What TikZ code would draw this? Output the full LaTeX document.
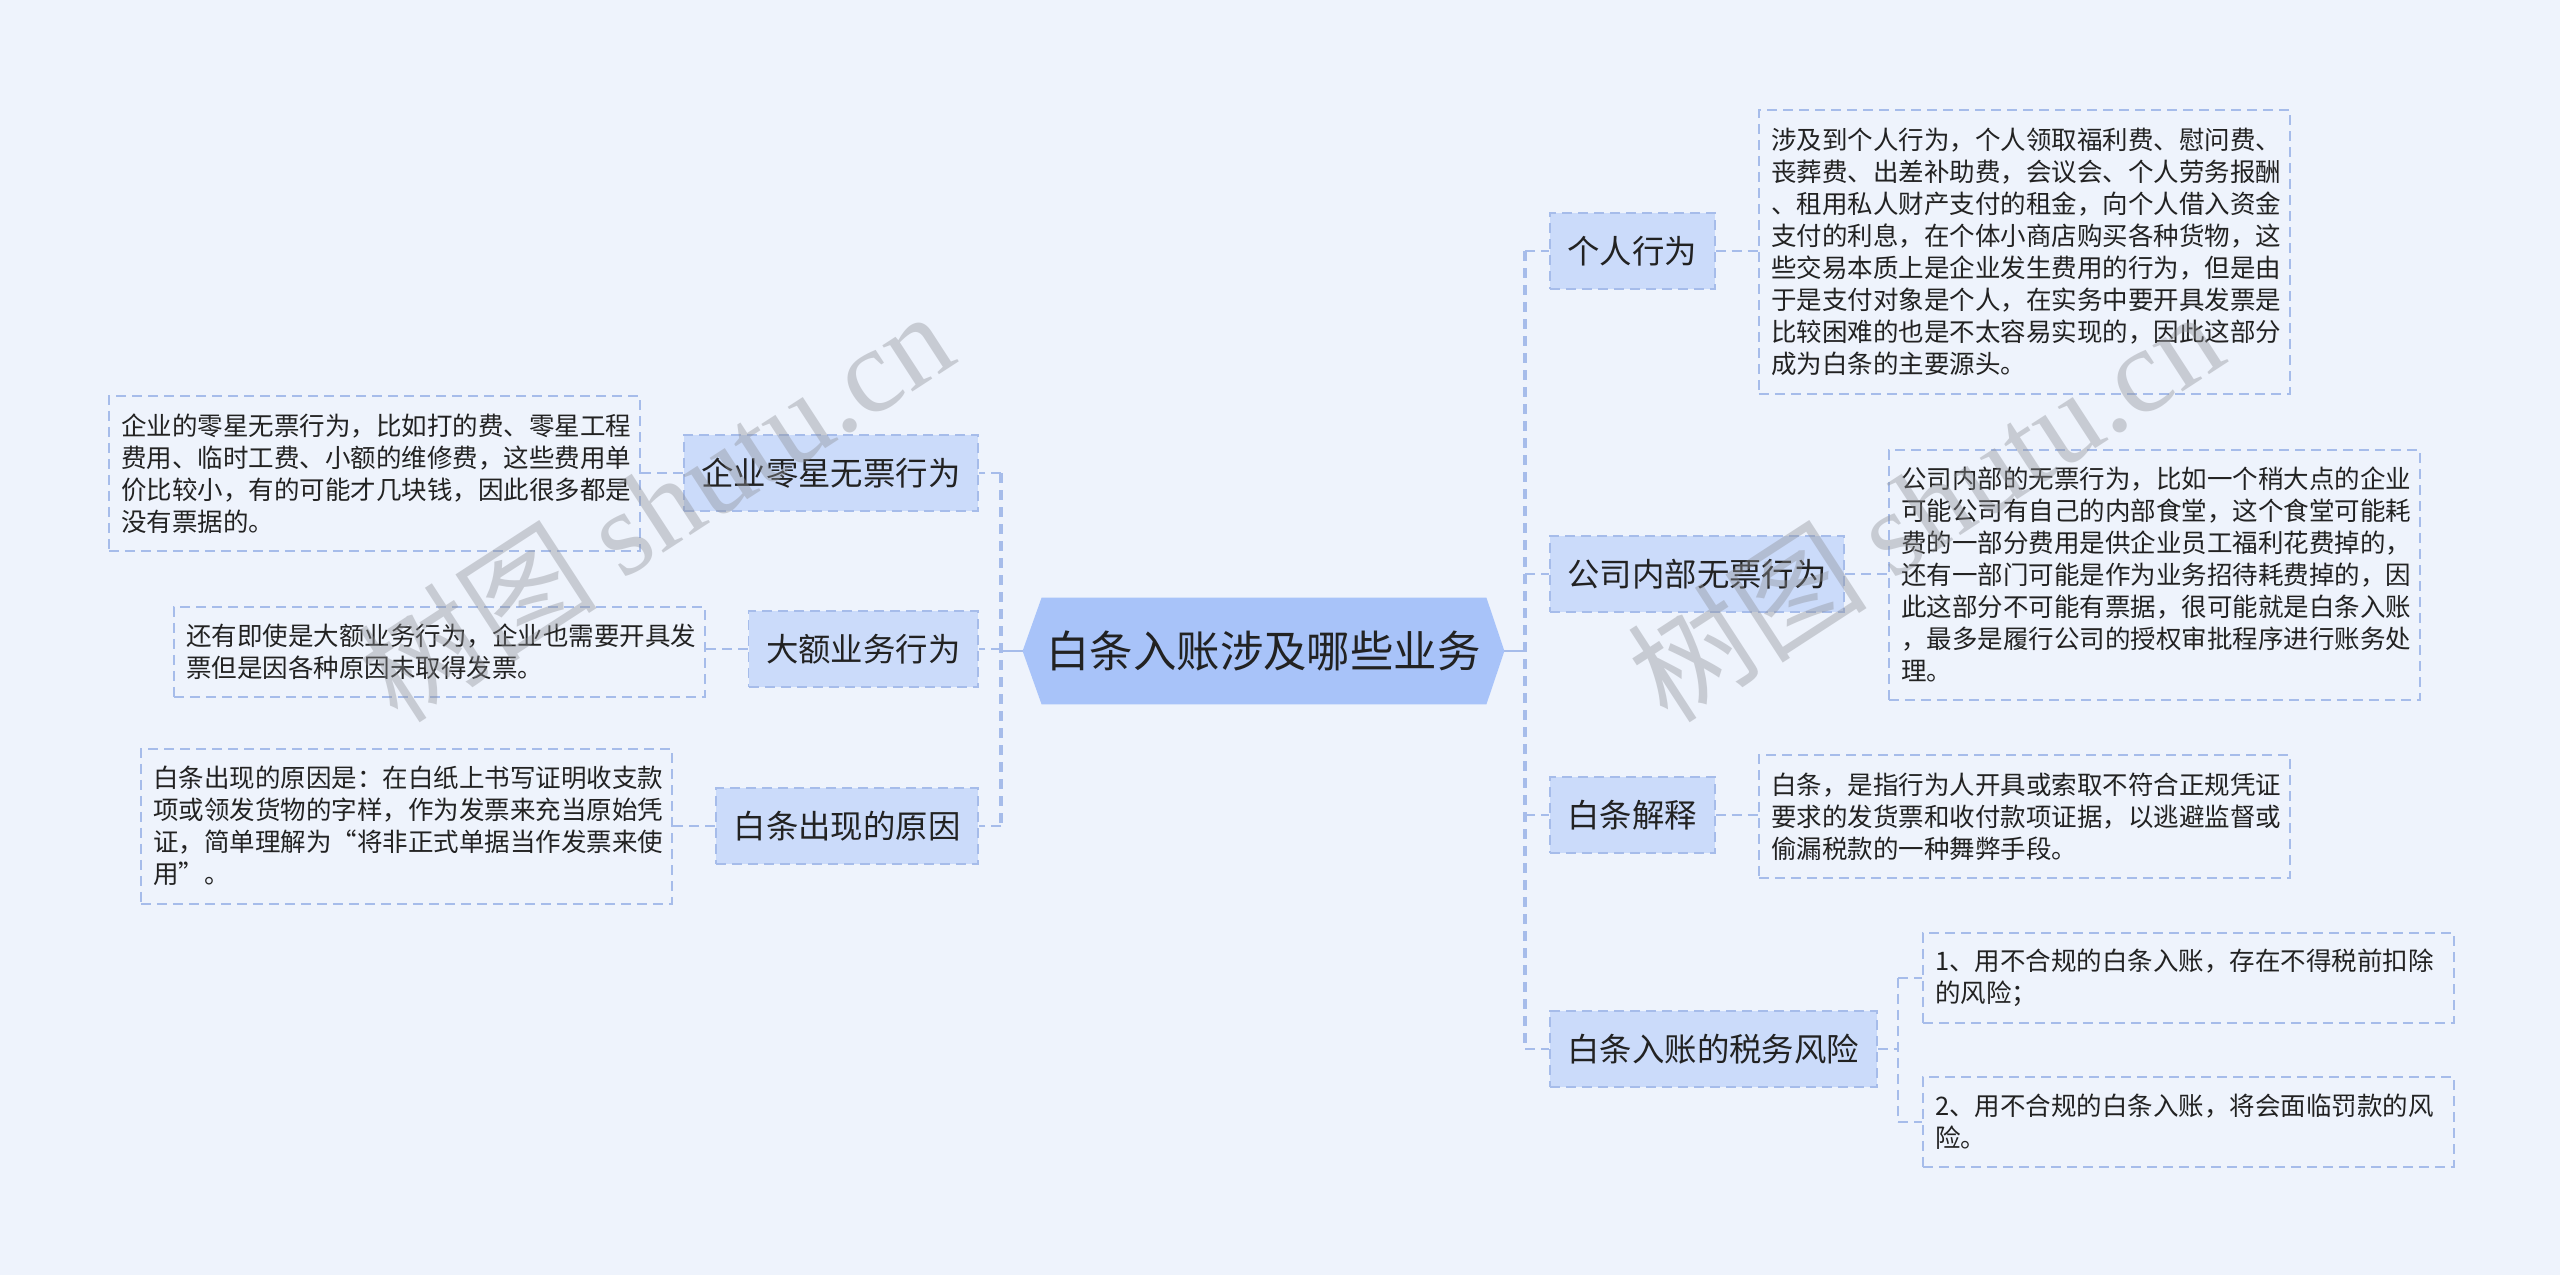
\documentclass[tikz,border=0pt]{standalone}
\usepackage{fontspec}
\setmainfont{Noto Sans CJK SC}
\newfontfamily\wmlatin{Liberation Serif}
\newfontfamily\wmcjk{Noto Sans CJK SC}
\usetikzlibrary{calc}
\definecolor{bgc}{HTML}{EEF3FC}
\definecolor{cfill}{HTML}{A8C3F9}
\definecolor{bfill}{HTML}{CBDBFA}
\definecolor{linec}{HTML}{A6BCEA}
\definecolor{txtc}{HTML}{222222}
\definecolor{wmc}{HTML}{8E9096}
\pgfdeclarelayer{bg}
\pgfsetlayers{bg,main}
\begin{document}
\begin{tikzpicture}[x=0.5pt,y=-0.5pt,
  centre/.style={minimum width=240.5pt, minimum height=53pt, inner sep=0pt,
    font=\fontsize{21.7pt}{26pt}\selectfont, text=txtc},
  branchbox/.style={draw=linec, fill=bfill, line width=0.9pt, dash pattern=on 5pt off 3pt,
    font=\fontsize{16.2pt}{20pt}\selectfont, text=txtc, inner xsep=8.8pt, inner ysep=0pt, minimum height=38pt},
  textbox/.style={draw=linec, line width=0.8pt, dash pattern=on 5pt off 3pt,
    font=\fontsize{12.75pt}{16pt}\selectfont, text=txtc, align=left, text width=253pt,
    inner xsep=6.25pt, inner ysep=0pt, anchor=north west},
  conn/.style={draw=linec, line width=1pt, dash pattern=on 5pt off 3pt},
  trunk/.style={draw=linec, line width=1.6pt, dash pattern=on 5pt off 3.5pt},
  solidconn/.style={draw=linec, line width=1.3pt},
  wm/.style={text=wmc, opacity=0.4, font=\fontsize{60pt}{60pt}\selectfont, inner sep=0pt}
]
\begin{pgfonlayer}{bg}
\fill[bgc] (0,0) rectangle (2560,1275);
\end{pgfonlayer}
\useasboundingbox (0,0) rectangle (2560,1275);

% central node
\node[centre] (c) at (1263.5,651) {白条入账涉及哪些业务};
\begin{pgfonlayer}{bg}
\fill[cfill] (c.west) -- ($(c.north west)+(19,0)$) -- ($(c.north east)+(-18,0)$) -- (c.east)
  -- ($(c.south east)+(-18,0)$) -- ($(c.south west)+(19,0)$) -- cycle;
\end{pgfonlayer}

% right branches
\node[branchbox, anchor=west] (r1) at (1549,251) {个人行为};
\node[branchbox, anchor=west] (r2) at (1549,574) {公司内部无票行为};
\node[branchbox, anchor=west] (r3) at (1549,815) {白条解释};
\node[branchbox, anchor=west] (r4) at (1549,1049) {白条入账的税务风险};

% left branches
\node[branchbox, anchor=east] (l1) at (979,473) {企业零星无票行为};
\node[branchbox, anchor=east] (l2) at (979,649) {大额业务行为};
\node[branchbox, anchor=east] (l3) at (979,826) {白条出现的原因};

% right text boxes
\node[textbox, minimum height=142pt] (t1) at (1758,109) {涉及到个人行为，个人领取福利费、慰问费、\\丧葬费、出差补助费，会议会、个人劳务报酬\\、租用私人财产支付的租金，向个人借入资金\\支付的利息，在个体小商店购买各种货物，这\\些交易本质上是企业发生费用的行为，但是由\\于是支付对象是个人，在实务中要开具发票是\\比较困难的也是不太容易实现的，因此这部分\\成为白条的主要源头。};
\node[textbox, minimum height=125pt] (t2) at (1888,449) {公司内部的无票行为，比如一个稍大点的企业\\可能公司有自己的内部食堂，这个食堂可能耗\\费的一部分费用是供企业员工福利花费掉的，\\还有一部门可能是作为业务招待耗费掉的，因\\此这部分不可能有票据，很可能就是白条入账\\，最多是履行公司的授权审批程序进行账务处\\理。};
\node[textbox, minimum height=61.5pt] (t3) at (1758,754) {白条，是指行为人开具或索取不符合正规凭证\\要求的发货票和收付款项证据，以逃避监督或\\偷漏税款的一种舞弊手段。};
\node[textbox, minimum height=45pt] (t4a) at (1922,932) {1、用不合规的白条入账，存在不得税前扣除\\的风险；};
\node[textbox, minimum height=45pt] (t4b) at (1922,1076) {2、用不合规的白条入账，将会面临罚款的风\\险。};

% left text boxes
\node[textbox, minimum height=77.5pt] (tl1) at (108,395) {企业的零星无票行为，比如打的费、零星工程\\费用、临时工费、小额的维修费，这些费用单\\价比较小，有的可能才几块钱，因此很多都是\\没有票据的。};
\node[textbox, minimum height=45pt] (tl2) at (173,606) {还有即使是大额业务行为，企业也需要开具发\\票但是因各种原因未取得发票。};
\node[textbox, minimum height=77.5pt] (tl3) at (140,748) {白条出现的原因是：在白纸上书写证明收支款\\项或领发货物的字样，作为发票来充当原始凭\\证，简单理解为“将非正式单据当作发票来使\\用”。};

% connectors
\coordinate (LT) at (1001,651);
\coordinate (RT) at (1525,651);
\coordinate (ST) at (1898,1049);
\draw[solidconn] (c.west) -- (LT);
\draw[solidconn] (c.east) -- (RT);
\draw[trunk] (l1.east -| LT) -- (l3.east -| LT);
\draw[trunk] (r1.west -| RT) -- (r4.west -| RT);
\foreach \n in {l1,l2,l3} {\draw[conn] (\n.east -| LT) -- (\n.east);}
\foreach \n in {r1,r2,r3,r4} {\draw[conn] (\n.west -| RT) -- (\n.west);}
\draw[conn] (r1.east) -- (t1.west |- r1.east);
\draw[conn] (r2.east) -- (t2.west |- r2.east);
\draw[conn] (r3.east) -- (t3.west |- r3.east);
\draw[conn] (r4.east) -- (ST);
\draw[conn] (t4a.west -| ST) -- (t4b.west -| ST);
\draw[conn] (t4a.west -| ST) -- (t4a.west);
\draw[conn] (t4b.west -| ST) -- (t4b.west);
\draw[conn] (l1.west) -- (tl1.east |- l1.west);
\draw[conn] (l2.west) -- (tl2.east |- l2.west);
\draw[conn] (l3.west) -- (tl3.east |- l3.west);

% watermarks
\node[wm, rotate=33] (w1) at (655,505) {{\wmcjk 树图} {\wmlatin shutu.cn}};
\node[wm, rotate=33] (w2) at (1925,505) {{\wmcjk 树图} {\wmlatin shutu.cn}};
\end{tikzpicture}
\end{document}
